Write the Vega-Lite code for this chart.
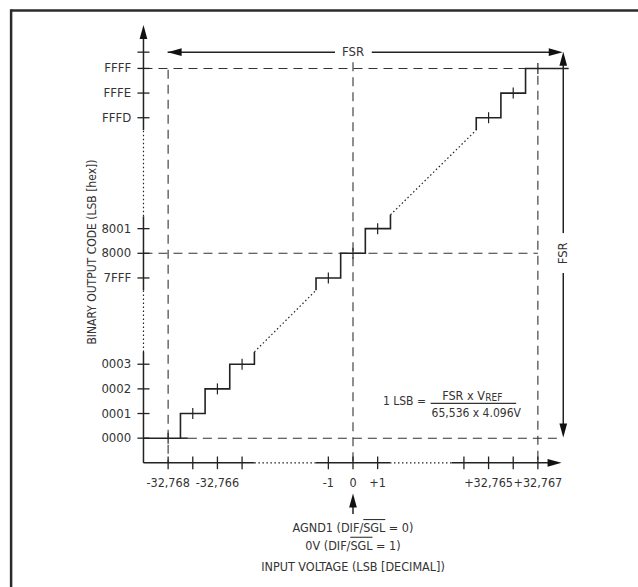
{
  "$schema": "https://vega.github.io/schema/vega-lite/v6.json",
  "width": 638,
  "height": 587,
  "padding": 0,
  "autosize": {"type": "none"},
  "background": "white",
  "config": {"view": {"stroke": null}, "font": "DejaVu Sans Condensed, DejaVu Sans, sans-serif"},
  "datasets": {
    "frame": [
      {"x": -13.87, "y": 9.85, "x2": 12.0, "y2": 9.85},
      {"x": -13.87, "y": 9.9, "x2": -13.87, "y2": -13.8}
    ],
    "guides": [
      {"x": -7.5, "y": 7.45, "x2": -7.5, "y2": -8.5},
      {"x": 0, "y": 7.75, "x2": 0, "y2": -8.5},
      {"x": 7.5, "y": 7.2, "x2": 7.5, "y2": -8.5},
      {"x": -8.5, "y": 7.5, "x2": 7.0, "y2": 7.5},
      {"x": -8.5, "y": 0, "x2": 7.5, "y2": 0},
      {"x": -6.7, "y": -7.5, "x2": 8.5, "y2": -7.5}
    ],
    "solid": [
      {"x": -8.5, "y": -8.5, "x2": -8.5, "y2": -4.0},
      {"x": -8.5, "y": -1.5, "x2": -8.5, "y2": 1.5},
      {"x": -8.5, "y": 5.0, "x2": -8.5, "y2": 8.9},
      {"x": -8.5, "y": -8.5, "x2": -4.0, "y2": -8.5},
      {"x": -1.5, "y": -8.5, "x2": 1.5, "y2": -8.5},
      {"x": 4.0, "y": -8.5, "x2": 8.2, "y2": -8.5},
      {"x": -7.52, "y": 8.16, "x2": -0.73, "y2": 8.16},
      {"x": 0.76, "y": 8.16, "x2": 8.3, "y2": 8.16},
      {"x": 8.53, "y": 7.9, "x2": 8.53, "y2": 0.82},
      {"x": 8.53, "y": -0.8, "x2": 8.53, "y2": -7.2},
      {"x": -7.0, "y": -7.5, "x2": -6.7, "y2": -7.5},
      {"x": 0, "y": -10.0, "x2": 0, "y2": -10.58}
    ],
    "dotted": [
      {"x": -8.5, "y": -4.0, "x2": -8.5, "y2": -1.5},
      {"x": -8.5, "y": 1.5, "x2": -8.5, "y2": 5.0},
      {"x": -4.0, "y": -8.5, "x2": -1.5, "y2": -8.5},
      {"x": 1.5, "y": -8.5, "x2": 4.0, "y2": -8.5},
      {"x": -4.0, "y": -4.0, "x2": -1.5, "y2": -1.5},
      {"x": 1.52, "y": 1.56, "x2": 5.0, "y2": 5.0}
    ],
    "steps": [
      {"seg": "low", "i": 0, "x": -8.5, "y": -7.5},
      {"seg": "low", "i": 1, "x": -7.0, "y": -6.5},
      {"seg": "low", "i": 2, "x": -6.0, "y": -5.5},
      {"seg": "low", "i": 3, "x": -5.0, "y": -4.5},
      {"seg": "low", "i": 4, "x": -4.0, "y": -4.0},
      {"seg": "mid", "i": 0, "x": -1.5, "y": -1.5},
      {"seg": "mid", "i": 1, "x": -1.5, "y": -1.0},
      {"seg": "mid", "i": 2, "x": -0.5, "y": 0.0},
      {"seg": "mid", "i": 3, "x": 0.5, "y": 1.0},
      {"seg": "mid", "i": 4, "x": 1.52, "y": 1.56},
      {"seg": "high", "i": 0, "x": 5.0, "y": 5.0},
      {"seg": "high", "i": 1, "x": 5.0, "y": 5.5},
      {"seg": "high", "i": 2, "x": 6.0, "y": 6.5},
      {"seg": "high", "i": 3, "x": 7.0, "y": 7.5},
      {"seg": "high", "i": 4, "x": 8.75, "y": 7.5}
    ],
    "stepTicks": [
      {"lsb": -7.5, "code": -7.5}, {"lsb": -6.5, "code": -6.5}, {"lsb": -5.5, "code": -5.5}, {"lsb": -4.5, "code": -4.5},
      {"lsb": -1, "code": -1}, {"lsb": 0, "code": 0}, {"lsb": 1, "code": 1},
      {"lsb": 5.5, "code": 5.5}, {"lsb": 6.5, "code": 6.5}, {"lsb": 7.5, "code": 7.5}
    ],
    "yticks": [
      {"code": 8.16, "label": ""}, {"code": 7.5, "label": "FFFF"}, {"code": 6.5, "label": "FFFE"}, {"code": 5.5, "label": "FFFD"},
      {"code": 1, "label": "8001"}, {"code": 0, "label": "8000"}, {"code": -1, "label": "7FFF"},
      {"code": -4.5, "label": "0003"}, {"code": -5.5, "label": "0002"}, {"code": -6.5, "label": "0001"}, {"code": -7.5, "label": "0000"}
    ],
    "xticks": [
      {"lsb": -7.5, "label": "-32,768"}, {"lsb": -6.5, "label": ""}, {"lsb": -5.5, "label": "-32,766"}, {"lsb": -4.5, "label": ""},
      {"lsb": -1, "label": "-1"}, {"lsb": 0, "label": "0"}, {"lsb": 1, "label": "+1"},
      {"lsb": 4.5, "label": ""}, {"lsb": 5.5, "label": "+32,765"}, {"lsb": 6.5, "label": ""}, {"lsb": 7.5, "label": "+32,767"}
    ],
    "arrows": [
      {"x": -8.5, "y": 9.26, "dir": "up"},
      {"x": 8.46, "y": -8.5, "dir": "right"},
      {"x": -7.52, "y": 8.16, "dir": "left"},
      {"x": 8.51, "y": 8.16, "dir": "right"},
      {"x": 8.53, "y": 8.18, "dir": "up"},
      {"x": 8.53, "y": -7.47, "dir": "down"},
      {"x": 0, "y": -9.74, "dir": "up"}
    ],
    "bars": [
      {"x": 0.42, "y": -10.8, "x2": 1.31, "y2": -10.8},
      {"x": -0.11, "y": -11.52, "x2": 0.79, "y2": -11.52},
      {"x": 3.15, "y": -6.09, "x2": 6.62, "y2": -6.09}
    ],
    "centerTexts": [
      {"x": 0, "y": -11.13, "text": "AGND1 (DIF/SGL = 0)"},
      {"x": 0, "y": -11.86, "text": "0V (DIF/SGL = 1)"},
      {"x": 0, "y": -12.74, "text": "INPUT VOLTAGE (LSB [DECIMAL])"}
    ],
    "fsrTexts": [
      {"x": 0, "y": 8.16, "text": "FSR", "angle": 0},
      {"x": 8.53, "y": 0, "text": "FSR", "angle": 270}
    ],
    "yTitle": [
      {"x": -10.6, "y": 0.05, "text": "BINARY OUTPUT CODE (LSB [hex])"}
    ],
    "lsbText": [
      {"x": 2.96, "y": -5.99, "text": "1 LSB ="}
    ],
    "numer": [
      {"x": 5.35, "y": -5.96, "text": "FSR x V"}
    ],
    "subs": [
      {"x": 5.37, "y": -6.0, "text": "REF"}
    ],
    "denom": [
      {"x": 5.0, "y": -6.47, "text": "65,536 x 4.096V"}
    ]
  },
  "layer": [
    {
      "data": {"name": "frame"},
      "mark": {"type": "rule", "strokeWidth": 2.5, "color": "#2b2b2b"},
      "encoding": {
        "x": {"field": "x", "type": "quantitative", "scale": {"domain": [-14.3205, 11.5619], "nice": false, "zero": false}, "axis": null},
        "y": {"field": "y", "type": "quantitative", "scale": {"domain": [-13.5375, 10.2759], "nice": false, "zero": false}, "axis": null},
        "x2": {"field": "x2"}, "y2": {"field": "y2"}
      }
    },
    {
      "data": {"name": "guides"},
      "mark": {"type": "rule", "strokeWidth": 1.1, "color": "#333", "strokeDash": [9, 6]},
      "encoding": {
        "x": {"field": "x", "type": "quantitative", "scale": {"domain": [-14.3205, 11.5619], "nice": false, "zero": false}, "axis": null},
        "y": {"field": "y", "type": "quantitative", "scale": {"domain": [-13.5375, 10.2759], "nice": false, "zero": false}, "axis": null},
        "x2": {"field": "x2"}, "y2": {"field": "y2"}
      }
    },
    {
      "data": {"name": "solid"},
      "mark": {"type": "rule", "strokeWidth": 1.5, "color": "#222"},
      "encoding": {
        "x": {"field": "x", "type": "quantitative", "scale": {"domain": [-14.3205, 11.5619], "nice": false, "zero": false}, "axis": null},
        "y": {"field": "y", "type": "quantitative", "scale": {"domain": [-13.5375, 10.2759], "nice": false, "zero": false}, "axis": null},
        "x2": {"field": "x2"}, "y2": {"field": "y2"}
      }
    },
    {
      "data": {"name": "dotted"},
      "mark": {"type": "rule", "strokeWidth": 1.2, "color": "#222", "strokeDash": [1.5, 2.5]},
      "encoding": {
        "x": {"field": "x", "type": "quantitative", "scale": {"domain": [-14.3205, 11.5619], "nice": false, "zero": false}, "axis": null},
        "y": {"field": "y", "type": "quantitative", "scale": {"domain": [-13.5375, 10.2759], "nice": false, "zero": false}, "axis": null},
        "x2": {"field": "x2"}, "y2": {"field": "y2"}
      }
    },
    {
      "data": {"name": "steps"},
      "mark": {"type": "line", "interpolate": "step-after", "strokeWidth": 1.6, "color": "#222"},
      "encoding": {
        "x": {"field": "x", "type": "quantitative", "scale": {"domain": [-14.3205, 11.5619], "nice": false, "zero": false}, "axis": null},
        "y": {"field": "y", "type": "quantitative", "scale": {"domain": [-13.5375, 10.2759], "nice": false, "zero": false}, "axis": null},
        "detail": {"field": "seg"},
        "order": {"field": "i"}
      }
    },
    {
      "data": {"name": "stepTicks"},
      "mark": {"type": "point", "shape": "M0,-1L0,1", "filled": false, "size": 121, "strokeWidth": 1.2, "color": "#222", "opacity": 1},
      "encoding": {
        "x": {"field": "lsb", "type": "quantitative", "scale": {"domain": [-14.3205, 11.5619], "nice": false, "zero": false}, "axis": null},
        "y": {"field": "code", "type": "quantitative", "scale": {"domain": [-13.5375, 10.2759], "nice": false, "zero": false}, "axis": null}
      }
    },
    {
      "data": {"name": "xticks"},
      "mark": {"type": "point", "shape": "M0,-1L0,1", "filled": false, "size": 160, "strokeWidth": 1.3, "color": "#222", "opacity": 1},
      "encoding": {
        "x": {"field": "lsb", "type": "quantitative", "scale": {"domain": [-14.3205, 11.5619], "nice": false, "zero": false}, "axis": null},
        "y": {"datum": -8.5, "type": "quantitative", "scale": {"domain": [-13.5375, 10.2759], "nice": false, "zero": false}, "axis": null}
      }
    },
    {
      "data": {"name": "yticks"},
      "mark": {"type": "point", "shape": "M-1,0L1,0", "filled": false, "size": 144, "strokeWidth": 1.3, "color": "#222", "opacity": 1},
      "encoding": {
        "x": {"datum": -8.5, "type": "quantitative", "scale": {"domain": [-14.3205, 11.5619], "nice": false, "zero": false}, "axis": null},
        "y": {"field": "code", "type": "quantitative", "scale": {"domain": [-13.5375, 10.2759], "nice": false, "zero": false}, "axis": null}
      }
    },
    {
      "data": {"name": "arrows"},
      "mark": {"type": "point", "filled": true, "size": 196, "color": "#111", "opacity": 1},
      "encoding": {
        "x": {"field": "x", "type": "quantitative", "scale": {"domain": [-14.3205, 11.5619], "nice": false, "zero": false}, "axis": null},
        "y": {"field": "y", "type": "quantitative", "scale": {"domain": [-13.5375, 10.2759], "nice": false, "zero": false}, "axis": null},
        "shape": {"field": "dir", "type": "nominal", "scale": {"domain": ["up", "down", "left", "right"], "range": ["M0,0L-0.55,2L0.55,2Z", "M0,0L-0.55,-2L0.55,-2Z", "M0,0L2,-0.55L2,0.55Z", "M0,0L-2,-0.55L-2,0.55Z"]}, "legend": null}
      }
    },
    {
      "data": {"name": "bars"},
      "mark": {"type": "rule", "strokeWidth": 1.1, "color": "#333"},
      "encoding": {
        "x": {"field": "x", "type": "quantitative", "scale": {"domain": [-14.3205, 11.5619], "nice": false, "zero": false}, "axis": null},
        "y": {"field": "y", "type": "quantitative", "scale": {"domain": [-13.5375, 10.2759], "nice": false, "zero": false}, "axis": null},
        "x2": {"field": "x2"}, "y2": {"field": "y2"}
      }
    },
    {
      "data": {"name": "yticks"},
      "mark": {"type": "text", "align": "right", "baseline": "middle", "fontSize": 13, "color": "#333"},
      "encoding": {
        "x": {"datum": -9.0, "type": "quantitative", "scale": {"domain": [-14.3205, 11.5619], "nice": false, "zero": false}, "axis": null},
        "y": {"field": "code", "type": "quantitative", "scale": {"domain": [-13.5375, 10.2759], "nice": false, "zero": false}, "axis": null},
        "text": {"field": "label"}
      }
    },
    {
      "data": {"name": "xticks"},
      "mark": {"type": "text", "align": "center", "baseline": "middle", "fontSize": 12.5, "color": "#333"},
      "encoding": {
        "x": {"field": "lsb", "type": "quantitative", "scale": {"domain": [-14.3205, 11.5619], "nice": false, "zero": false}, "axis": null},
        "y": {"datum": -9.31, "type": "quantitative", "scale": {"domain": [-13.5375, 10.2759], "nice": false, "zero": false}, "axis": null},
        "text": {"field": "label"}
      }
    },
    {
      "data": {"name": "centerTexts"},
      "mark": {"type": "text", "align": "center", "baseline": "middle", "fontSize": 12.5, "color": "#333"},
      "encoding": {
        "x": {"field": "x", "type": "quantitative", "scale": {"domain": [-14.3205, 11.5619], "nice": false, "zero": false}, "axis": null},
        "y": {"field": "y", "type": "quantitative", "scale": {"domain": [-13.5375, 10.2759], "nice": false, "zero": false}, "axis": null},
        "text": {"field": "text"}
      }
    },
    {
      "data": {"name": "fsrTexts"},
      "mark": {"type": "text", "align": "center", "baseline": "middle", "fontSize": 13, "color": "#333"},
      "encoding": {
        "x": {"field": "x", "type": "quantitative", "scale": {"domain": [-14.3205, 11.5619], "nice": false, "zero": false}, "axis": null},
        "y": {"field": "y", "type": "quantitative", "scale": {"domain": [-13.5375, 10.2759], "nice": false, "zero": false}, "axis": null},
        "text": {"field": "text"},
        "angle": {"field": "angle", "type": "quantitative", "scale": null}
      }
    },
    {
      "data": {"name": "yTitle"},
      "mark": {"type": "text", "align": "center", "baseline": "middle", "angle": 270, "fontSize": 12, "color": "#333"},
      "encoding": {
        "x": {"field": "x", "type": "quantitative", "scale": {"domain": [-14.3205, 11.5619], "nice": false, "zero": false}, "axis": null},
        "y": {"field": "y", "type": "quantitative", "scale": {"domain": [-13.5375, 10.2759], "nice": false, "zero": false}, "axis": null},
        "text": {"field": "text"}
      }
    },
    {
      "data": {"name": "lsbText"},
      "mark": {"type": "text", "align": "right", "baseline": "middle", "fontSize": 12, "color": "#333"},
      "encoding": {
        "x": {"field": "x", "type": "quantitative", "scale": {"domain": [-14.3205, 11.5619], "nice": false, "zero": false}, "axis": null},
        "y": {"field": "y", "type": "quantitative", "scale": {"domain": [-13.5375, 10.2759], "nice": false, "zero": false}, "axis": null},
        "text": {"field": "text"}
      }
    },
    {
      "data": {"name": "numer"},
      "mark": {"type": "text", "align": "right", "baseline": "alphabetic", "fontSize": 12.5, "color": "#333"},
      "encoding": {
        "x": {"field": "x", "type": "quantitative", "scale": {"domain": [-14.3205, 11.5619], "nice": false, "zero": false}, "axis": null},
        "y": {"field": "y", "type": "quantitative", "scale": {"domain": [-13.5375, 10.2759], "nice": false, "zero": false}, "axis": null},
        "text": {"field": "text"}
      }
    },
    {
      "data": {"name": "subs"},
      "mark": {"type": "text", "align": "left", "baseline": "alphabetic", "fontSize": 10, "color": "#333"},
      "encoding": {
        "x": {"field": "x", "type": "quantitative", "scale": {"domain": [-14.3205, 11.5619], "nice": false, "zero": false}, "axis": null},
        "y": {"field": "y", "type": "quantitative", "scale": {"domain": [-13.5375, 10.2759], "nice": false, "zero": false}, "axis": null},
        "text": {"field": "text"}
      }
    },
    {
      "data": {"name": "denom"},
      "mark": {"type": "text", "align": "center", "baseline": "middle", "fontSize": 12, "color": "#333"},
      "encoding": {
        "x": {"field": "x", "type": "quantitative", "scale": {"domain": [-14.3205, 11.5619], "nice": false, "zero": false}, "axis": null},
        "y": {"field": "y", "type": "quantitative", "scale": {"domain": [-13.5375, 10.2759], "nice": false, "zero": false}, "axis": null},
        "text": {"field": "text"}
      }
    }
  ]
}
